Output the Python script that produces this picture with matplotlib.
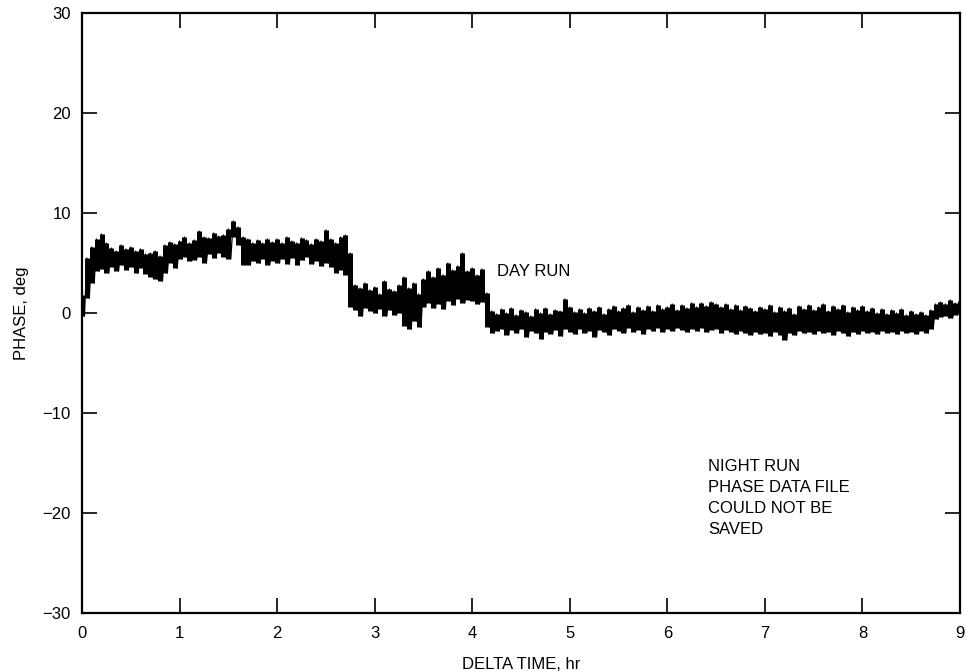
import numpy as np
import matplotlib
matplotlib.use("Agg")
import matplotlib.pyplot as plt

# Phase trace: upper and lower edge of the noisy
# band every 0.05 hr (DELTA TIME 0..9 hr)
time_step = 0.05
phase_hi = [
    1.8, 5.5, 6.6, 7.4, 7.9, 7.0, 6.5, 6.2, 6.8, 6.4,
    6.6, 6.2, 6.4, 5.9, 6.0, 6.2, 5.7, 6.8, 7.1, 6.9,
    7.2, 7.6, 7.0, 7.3, 8.2, 7.6, 7.5, 8.0, 7.7, 7.8,
    8.4, 9.2, 8.6, 7.6, 7.4, 7.0, 7.3, 7.0, 7.4, 7.1,
    7.4, 7.0, 7.6, 7.2, 7.0, 7.5, 7.3, 6.9, 7.4, 7.2,
    8.3, 7.4, 7.0, 7.6, 7.8, 6.0, 2.8, 2.5, 3.0, 2.3,
    2.6, 1.9, 3.2, 2.4, 2.2, 2.8, 3.6, 2.5, 3.0, 1.9,
    3.4, 4.2, 3.6, 4.5, 3.8, 5.0, 4.3, 4.7, 6.0, 4.2,
    4.5, 3.8, 4.4, 2.0, 0.2, -0.1, 0.4, 0.0, 0.5, -0.2,
    0.3, 0.1, -0.3, 0.4, 0.0, 0.5, -0.1, 0.3, 0.2, 1.4,
    0.6, 0.1, 0.4, 0.0, 0.5, 0.2, 0.6, -0.1, 0.4, 0.7,
    0.2, 0.5, 0.8, 0.1, 0.6, 0.3, 0.7, 0.2, 0.8, 0.4,
    0.6, 0.9, 0.3, 0.8, 0.5, 1.0, 0.6, 1.0, 0.7, 1.1,
    0.9, 0.6, 0.9, 0.4, 0.8, 0.3, 0.7, 0.5, 0.2, 0.6,
    0.4, 0.8, 0.1, 0.6, 0.2, 0.5, -0.1, 0.7, 0.4, 0.8,
    0.3, 0.6, 0.9, 0.2, 0.7, 0.4, 0.8, 0.1, 0.6, 0.3,
    0.7, 0.2, 0.5, 0.0, 0.4, -0.1, 0.3, 0.0, 0.4, -0.2,
    0.2, -0.1, 0.1, -0.2, 0.3, 0.9, 1.1, 0.9, 1.3, 1.0,
    1.2,
]
phase_lo = [
    -0.3, 1.5, 3.0, 4.2, 4.4, 4.0, 4.6, 4.2, 4.8, 4.3,
    4.6, 4.0, 4.5, 3.9, 3.6, 3.4, 3.2, 4.0, 5.0, 4.5,
    5.4, 5.6, 5.2, 5.3, 5.6, 5.0, 5.9, 5.5, 6.0, 5.6,
    5.4, 7.6, 6.8, 4.8, 4.8, 5.2, 5.0, 5.4, 4.8, 5.2,
    5.0, 5.4, 4.9, 5.5, 4.8, 5.3, 5.6, 4.9, 5.2, 4.7,
    5.0, 4.6, 4.0, 4.3, 3.8, 0.6, 0.3, -0.3, 0.5, 0.2,
    0.0, 0.4, -0.3, 0.3, -0.2, 0.0, -1.3, -1.6, -0.8, -1.4,
    0.6, 1.0, 0.5, 0.9, 0.4, 1.2, 0.8, 1.4, 1.0, 1.3,
    1.2, 0.9, 1.1, -1.4, -2.0, -1.8, -1.6, -2.2, -1.7, -2.0,
    -1.6, -2.4, -1.8, -2.0, -2.6, -1.9, -2.1, -1.7, -2.3, -1.6,
    -1.9, -2.1, -1.6, -2.0, -1.8, -2.4, -1.7, -1.9, -2.2, -1.6,
    -1.8, -2.0, -1.5, -1.9, -1.7, -2.1, -1.6, -1.8, -1.5, -1.9,
    -1.6, -1.8, -1.5, -1.7, -1.9, -1.6, -1.8, -1.5, -1.9, -1.7,
    -1.6, -2.0, -1.7, -1.9, -2.1, -1.8, -2.0, -2.2, -1.9, -2.1,
    -2.0, -2.3, -1.9, -2.2, -2.7, -2.0, -2.2, -1.8, -2.0, -1.9,
    -2.1, -1.8, -2.0, -1.9, -2.2, -1.8, -2.0, -2.3, -1.9, -2.1,
    -1.8, -2.0, -1.9, -2.1, -1.8, -2.0, -1.9, -2.1, -1.8, -2.0,
    -1.9, -2.1, -1.8, -2.0, -1.6, -0.6, -0.4, -0.3, -0.5, -0.2,
    -0.1,
]

x_ticks = [0, 1, 2, 3, 4, 5, 6, 7, 8, 9]
y_ticks = [-30, -20, -10, 0, 10, 20, 30]
day_note = "DAY RUN"
night_note = "NIGHT RUN\nPHASE DATA FILE\nCOULD NOT BE\nSAVED"


def build_trace(hi, lo, step):
    """
    Zig-zag between the upper and lower band edges so the line looks like
    the dense recorder trace.
    """
    t = np.arange(len(hi)) * step
    times = np.empty(2 * len(hi))
    values = np.empty(2 * len(hi))
    times[0::2] = t
    times[1::2] = t + step / 2
    values[0::2] = hi
    values[1::2] = lo
    return t, times, values


def main():
    plt.rcParams["font.family"] = ["Liberation Sans", "DejaVu Sans"]

    fig = plt.figure(figsize=(9.66, 6.71), dpi=100)
    ax = fig.add_axes([0.0849, 0.0864, 0.9089, 0.8942])

    t, times, values = build_trace(phase_hi, phase_lo, time_step)
    # solid columns for the band, thin zig-zag on top for the ragged look
    ax.vlines(t, phase_lo, phase_hi, color="black", linewidth=3.6)
    ax.plot(times, values, color="black", linewidth=0.9)

    ax.set_xlim(0, 9)
    ax.set_ylim(-30, 30)
    ax.set_xticks(x_ticks)
    ax.set_yticks(y_ticks)
    ax.tick_params(direction="in", length=11, width=1.2, top=True, right=True,
                   labelsize=12)
    ax.tick_params(axis="x", pad=9)
    ax.tick_params(axis="y", pad=8)
    for side in ax.spines.values():
        side.set_linewidth(1.6)

    ax.set_xlabel("DELTA TIME, hr", fontsize=12, labelpad=12)
    ax.set_ylabel("PHASE, deg", fontsize=12, labelpad=10)

    ax.text(4.25, 3.7, day_note, fontsize=12, va="baseline", ha="left")
    ax.text(6.42, -14.6, night_note, fontsize=12, va="top", ha="left",
            linespacing=1.5)

    fig.savefig("out.png", dpi=100)


if __name__ == "__main__":
    main()
